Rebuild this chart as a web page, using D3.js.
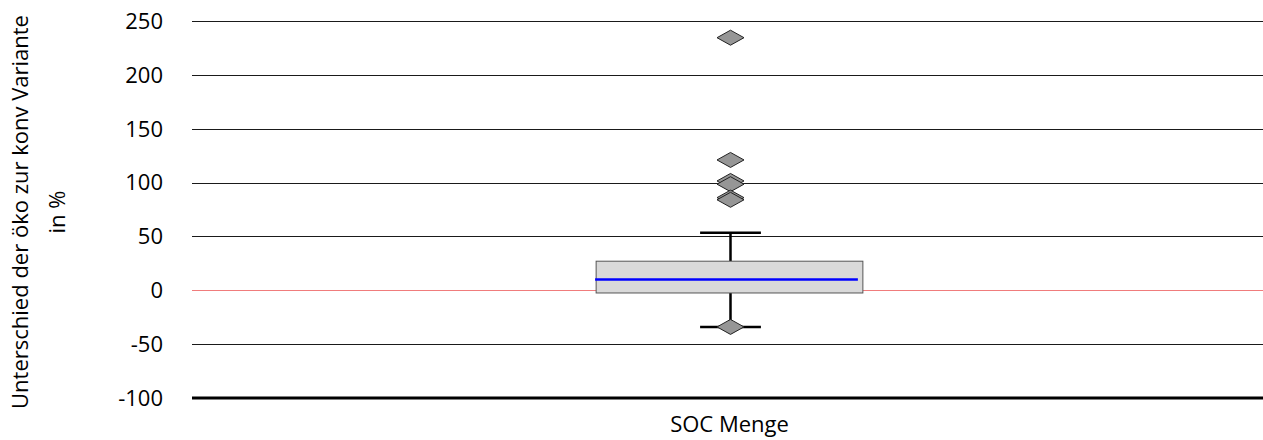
<!DOCTYPE html>
<html>
<head>
<meta charset="utf-8">
<script src="https://cdn.jsdelivr.net/npm/d3@7"></script>
<style>
  body { margin: 0; background: #fff; }
  svg text { font-family: "Open Sans", sans-serif; fill: #000; }
</style>
</head>
<body>
<svg id="chart"></svg>
<script>
// chart data
var categories = ["SOC Menge"];
var boxStats = [
    { q1: -2.5, median: 10, q3: 27, low: -34, high: 53.5 }
];
var outliers = [
    [234.5, 121, 101.5, 98.5, 86, 84, -34]
];
var yTicks = [-100, -50, 0, 50, 100, 150, 200, 250];
var yTitle = ["Unterschied der öko zur konv Variante", "in %"];

var w = 1263,
    h = 440;

var svg = d3.select("#chart")
    .attr("width", w)
    .attr("height", h);

var x = d3.scaleBand()
    .domain(categories)
    .range([196, 1263]);

var y = d3.scaleLinear()
    .domain([-100, 250])
    .range([398, 21]);

// gridlines (with short outer tick on the left)
svg.append("g").selectAll("line")
    .data(yTicks.filter(t => t !== -100))
    .enter().append("line")
    .attr("x1", 192)
    .attr("x2", w)
    .attr("y1", d => Math.round(y(d)) + 0.5)
    .attr("y2", d => Math.round(y(d)) + 0.5)
    .attr("stroke", d => d === 0 ? "#f07c7c" : "#1a1a1a")
    .attr("stroke-width", 1.2);

// baseline at -100
svg.append("line")
    .attr("x1", 192)
    .attr("x2", w)
    .attr("y1", y(-100))
    .attr("y2", y(-100))
    .attr("stroke", "#000")
    .attr("stroke-width", 3);

// tick labels
svg.append("g").selectAll("text")
    .data(yTicks)
    .enter().append("text")
    .attr("x", 163)
    .attr("y", d => y(d))
    .attr("dy", "0.36em")
    .attr("text-anchor", "end")
    .style("font-size", "22px")
    .text(d => d);

// y axis title, two rotated lines
svg.append("g").selectAll("text")
    .data(yTitle)
    .enter().append("text")
    .attr("transform", (d, i) => "translate(" + (28 + i * 37) + ",212) rotate(-90)")
    .attr("text-anchor", "middle")
    .style("font-size", "22px")
    .text(d => d);

// x category label
svg.append("g").selectAll("text")
    .data(categories)
    .enter().append("text")
    .attr("x", d => x(d) + x.bandwidth() / 2)
    .attr("y", 432)
    .attr("text-anchor", "middle")
    .style("font-size", "22px")
    .text(d => d);

var boxW = x.bandwidth() * 0.25,
    capW = x.bandwidth() * 0.057;

var groups = svg.append("g").selectAll("g")
    .data(categories)
    .enter().append("g");

groups.each(function (cat, i) {
    var g = d3.select(this);
    var s = boxStats[i];
    var cx = x(cat) + x.bandwidth() / 2;

    // whiskers
    g.append("line")
        .attr("x1", cx + 1).attr("x2", cx + 1)
        .attr("y1", y(s.q3)).attr("y2", y(s.high))
        .attr("stroke", "#000").attr("stroke-width", 2.5);
    g.append("line")
        .attr("x1", cx + 1).attr("x2", cx + 1)
        .attr("y1", y(s.q1)).attr("y2", y(s.low))
        .attr("stroke", "#000").attr("stroke-width", 2.5);
    [s.high, s.low].forEach(v => {
        g.append("line")
            .attr("x1", cx + 1 - capW / 2).attr("x2", cx + 1 + capW / 2)
            .attr("y1", y(v)).attr("y2", y(v))
            .attr("stroke", "#000").attr("stroke-width", 2.5);
    });

    // box
    g.append("rect")
        .attr("x", cx - boxW / 2)
        .attr("y", y(s.q3))
        .attr("width", boxW)
        .attr("height", y(s.q1) - y(s.q3))
        .attr("fill", "#d9d9d9")
        .attr("stroke", "#555")
        .attr("stroke-width", 1);

    // median
    g.append("line")
        .attr("x1", cx - boxW / 2 - 1).attr("x2", cx + boxW / 2 - 5)
        .attr("y1", y(s.median)).attr("y2", y(s.median))
        .attr("stroke", "#0000ff").attr("stroke-width", 2.5);

    // outliers as diamonds
    g.selectAll("path")
        .data(outliers[i])
        .enter().append("path")
        .attr("d", v => {
            var py = y(v);
            return "M" + (cx + 1 - 13.5) + "," + py + "L" + (cx + 1) + "," + (py - 7.5) +
                "L" + (cx + 1 + 13.5) + "," + py + "L" + (cx + 1) + "," + (py + 7.5) + "Z";
        })
        .attr("fill", "#969696")
        .attr("stroke", "#222")
        .attr("stroke-width", 1);
});
</script>
</body>
</html>
